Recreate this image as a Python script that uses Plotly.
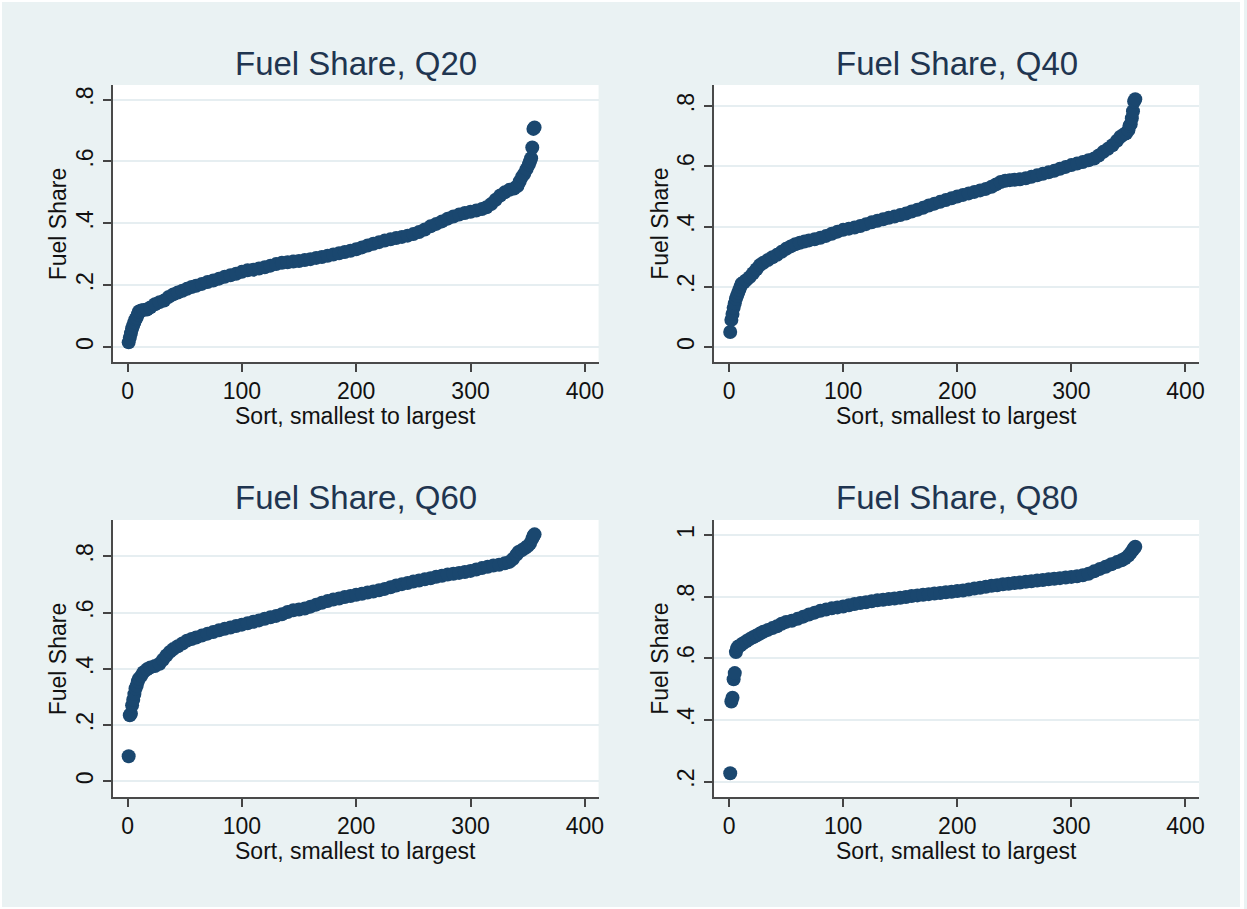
import plotly.graph_objects as go

# ---------------- data ----------------
q20_rank = [1, 2, 3, 4, 5, 6, 7, 8, 9, 10, 12, 14, 17, 20, 24, 28, 32, 36, 40, 44, 48, 52, 56, 60,
            65, 70, 75, 80, 85, 90, 95, 100, 105, 110, 115, 120, 125, 130, 135, 140, 145, 150, 155,
            160, 165, 170, 175, 180, 185, 190, 195, 200, 205, 210, 215, 220, 225, 230, 235, 240, 245,
            250, 255, 260, 265, 270, 275, 280, 285, 290, 295, 300, 305, 310, 314, 318, 322, 326, 330,
            334, 338, 341, 343, 345, 347, 349, 351, 352, 353, 354, 355, 356]
q20_share = [0.015, 0.03, 0.045, 0.06, 0.07, 0.08, 0.09, 0.095, 0.105, 0.115, 0.118, 0.12, 0.121, 0.128,
             0.138, 0.145, 0.15, 0.162, 0.17, 0.176, 0.182, 0.188, 0.194, 0.198, 0.204, 0.21, 0.215,
             0.221, 0.227, 0.232, 0.237, 0.243, 0.248, 0.25, 0.254, 0.258, 0.263, 0.268, 0.272, 0.274,
             0.276, 0.278, 0.281, 0.284, 0.288, 0.291, 0.295, 0.299, 0.303, 0.307, 0.311, 0.316, 0.322,
             0.328, 0.334, 0.339, 0.344, 0.348, 0.352, 0.356, 0.36, 0.365, 0.372, 0.38, 0.39, 0.398,
             0.406, 0.415, 0.422, 0.428, 0.433, 0.437, 0.441, 0.446, 0.452, 0.462, 0.476, 0.49, 0.5,
             0.508, 0.512, 0.52, 0.535, 0.55, 0.56, 0.575, 0.59, 0.6, 0.61, 0.645, 0.705, 0.71]

q40_rank = [1, 2, 3, 4, 5, 6, 7, 8, 9, 10, 11, 13, 15, 18, 21, 24, 27, 30, 34, 38, 42, 46, 50, 54, 58,
            62, 66, 70, 75, 80, 85, 90, 95, 100, 105, 110, 115, 120, 125, 130, 135, 140, 145, 150, 155,
            160, 165, 170, 175, 180, 185, 190, 195, 200, 205, 210, 215, 220, 225, 230, 234, 238, 242,
            246, 250, 255, 260, 265, 270, 275, 280, 285, 290, 295, 300, 305, 310, 315, 320, 324, 328,
            332, 336, 340, 343, 346, 348, 350, 351, 352, 353, 354, 355, 356]
q40_share = [0.05, 0.09, 0.11, 0.13, 0.145, 0.16, 0.17, 0.18, 0.19, 0.2, 0.21, 0.215, 0.222, 0.232,
             0.245, 0.258, 0.272, 0.28, 0.289, 0.298, 0.306, 0.316, 0.326, 0.334, 0.341, 0.346, 0.35,
             0.354, 0.358, 0.363, 0.369, 0.376, 0.383, 0.389, 0.393, 0.397, 0.402, 0.408, 0.414, 0.419,
             0.424, 0.429, 0.433, 0.438, 0.443, 0.45, 0.456, 0.462, 0.47, 0.476, 0.482, 0.488, 0.494,
             0.5, 0.505, 0.51, 0.515, 0.52, 0.525, 0.532, 0.54, 0.548, 0.552, 0.554, 0.555, 0.557,
             0.56, 0.565, 0.57, 0.575, 0.58, 0.585, 0.592, 0.598, 0.604, 0.609, 0.614, 0.62, 0.626,
             0.636, 0.648, 0.658, 0.67, 0.685, 0.698, 0.706, 0.71, 0.72, 0.735, 0.74, 0.76, 0.783,
             0.815, 0.823]

q60_rank = [1, 2, 3, 4, 5, 6, 7, 8, 9, 10, 12, 14, 17, 20, 24, 28, 31, 34, 37, 40, 44, 48, 52, 56, 60,
            65, 70, 75, 80, 85, 90, 95, 100, 105, 110, 115, 120, 125, 130, 135, 140, 145, 150, 155,
            160, 165, 170, 175, 180, 185, 190, 195, 200, 205, 210, 215, 220, 225, 230, 235, 240, 245,
            250, 255, 260, 265, 270, 275, 280, 285, 290, 295, 300, 305, 310, 315, 320, 325, 330, 334,
            337, 340, 342, 345, 348, 350, 352, 354, 355, 356]
q60_share = [0.089, 0.235, 0.24, 0.27, 0.29, 0.31, 0.33, 0.34, 0.355, 0.365, 0.375, 0.388, 0.398, 0.405,
             0.41, 0.418, 0.432, 0.447, 0.46, 0.47, 0.48, 0.49, 0.5, 0.506, 0.511, 0.518, 0.525, 0.531,
             0.537, 0.542, 0.547, 0.552, 0.557, 0.562, 0.567, 0.572, 0.578, 0.583, 0.588, 0.594,
             0.602, 0.608, 0.611, 0.614, 0.621, 0.628, 0.635, 0.641, 0.646, 0.65, 0.655, 0.659, 0.663,
             0.667, 0.671, 0.675, 0.679, 0.684, 0.69, 0.696, 0.701, 0.705, 0.71, 0.714, 0.718, 0.722,
             0.727, 0.731, 0.735, 0.738, 0.741, 0.744, 0.748, 0.753, 0.758, 0.763, 0.767, 0.77, 0.775,
             0.78, 0.79, 0.805, 0.815, 0.822, 0.83, 0.836, 0.845, 0.862, 0.872, 0.878]

q80_rank = [1, 2, 3, 4, 5, 6, 7, 8, 10, 12, 15, 18, 21, 24, 27, 30, 34, 38, 42, 46, 50, 55, 60, 65, 70,
            75, 80, 85, 90, 95, 100, 105, 110, 115, 120, 125, 130, 135, 140, 145, 150, 155, 160, 165,
            170, 175, 180, 185, 190, 195, 200, 205, 210, 215, 220, 225, 230, 235, 240, 245, 250, 255,
            260, 265, 270, 275, 280, 285, 290, 295, 300, 305, 310, 315, 320, 325, 330, 335, 340, 344,
            347, 350, 352, 354, 355, 356]
q80_share = [0.227, 0.46, 0.472, 0.532, 0.552, 0.62, 0.632, 0.638, 0.642, 0.648, 0.655, 0.662, 0.668,
             0.674, 0.68, 0.686, 0.692, 0.698, 0.704, 0.712, 0.718, 0.722, 0.728, 0.735, 0.742, 0.748,
             0.754, 0.758, 0.762, 0.765, 0.768, 0.772, 0.776, 0.779, 0.782, 0.785, 0.788, 0.79, 0.792,
             0.794, 0.796, 0.799, 0.802, 0.804, 0.806, 0.808, 0.81, 0.812, 0.814, 0.816, 0.818, 0.82,
             0.823, 0.826, 0.829, 0.832, 0.835, 0.837, 0.84, 0.842, 0.844, 0.846, 0.848, 0.85, 0.852,
             0.854, 0.856, 0.858, 0.86, 0.862, 0.864, 0.866, 0.869, 0.874, 0.882, 0.89, 0.897, 0.905,
             0.912, 0.918, 0.924, 0.933, 0.942, 0.952, 0.958, 0.962]

panel_titles = ["Fuel Share, Q20", "Fuel Share, Q40", "Fuel Share, Q60", "Fuel Share, Q80"]
x_tick_vals = [0, 100, 200, 300, 400]
y_tick_vals_a = [0, 0.2, 0.4, 0.6, 0.8]
y_tick_text_a = ["0", ".2", ".4", ".6", ".8"]
y_tick_vals_b = [0.2, 0.4, 0.6, 0.8, 1.0]
y_tick_text_b = [".2", ".4", ".6", ".8", "1"]
x_title = "Sort, smallest to largest"
y_title = "Fuel Share"

# ---------------- layout geometry ----------------
W, H = 1247, 909
BG = "#eaf2f3"
NAVY = "#1a476f"
FONT = "Arial, Liberation Sans, sans-serif"
TXT = "#111111"


def px_x(v):
    return v / W


def px_y(v):
    return 1 - v / H


# plot regions in pixels: (left, right, top, bottom)
regions = [(113, 601, 85, 362), (717, 1204, 85, 362), (113, 601, 520, 797), (717, 1204, 520, 797)]
y_ranges = [[-0.0485, 0.847], [-0.0498, 0.870], [-0.0558, 0.929], [0.150, 1.0486]]
x_range = [-13.1, 412.0]

series = [(q20_rank, q20_share), (q40_rank, q40_share), (q60_rank, q60_share), (q80_rank, q80_share)]

fig = go.Figure()
layout = dict(
    width=W, height=H,
    margin=dict(l=0, r=0, t=0, b=0),
    paper_bgcolor=BG,
    plot_bgcolor="white",
    showlegend=False,
    font=dict(family=FONT, size=23, color=TXT),
)
annotations = []

for i, ((ranks, vals), (l, r, t, b)) in enumerate(zip(series, regions)):
    n = i + 1
    xa = "x" if n == 1 else f"x{n}"
    ya = "y" if n == 1 else f"y{n}"
    fig.add_trace(go.Scatter(
        x=ranks, y=vals, mode="markers", xaxis=xa, yaxis=ya,
        marker=dict(color=NAVY, size=14, line=dict(width=0)),
        hoverinfo="skip",
    ))
    tv, tt = (y_tick_vals_b, y_tick_text_b) if n == 4 else (y_tick_vals_a, y_tick_text_a)
    layout["xaxis" if n == 1 else f"xaxis{n}"] = dict(
        domain=[px_x(l), px_x(r)], anchor=ya, range=x_range,
        tickvals=x_tick_vals, ticks="outside", ticklen=8, tickwidth=1.5, tickcolor="#444444",
        showline=True, linecolor="#4a4a4a", linewidth=1.5, showgrid=False, zeroline=False,
        tickfont=dict(size=23, family=FONT, color=TXT), ticklabelstandoff=0,
    )
    layout["yaxis" if n == 1 else f"yaxis{n}"] = dict(
        domain=[px_y(b), px_y(t)], anchor=xa, range=y_ranges[i],
        tickvals=tv, ticktext=tt, tickangle=-90,
        ticks="outside", ticklen=8, tickwidth=1.5, tickcolor="#444444",
        showline=True, linecolor="#4a4a4a", linewidth=1.5,
        showgrid=True, gridcolor="#e6eef1", gridwidth=1.5, zeroline=False,
        tickfont=dict(size=23, family=FONT, color=TXT), ticklabelstandoff=1,
    )
    cx = (l + r) / 2
    cy = (t + b) / 2
    annotations.append(dict(
        text=panel_titles[i], x=px_x(cx), y=px_y(t - 22), xref="paper", yref="paper",
        xanchor="center", yanchor="middle", showarrow=False,
        font=dict(size=33, family=FONT, color="#1f3550"),
    ))
    annotations.append(dict(
        text=x_title, x=px_x(cx), y=px_y(b + 54), xref="paper", yref="paper",
        xanchor="center", yanchor="middle", showarrow=False,
        font=dict(size=23, family=FONT, color=TXT),
    ))
    annotations.append(dict(
        text=y_title, x=px_x(l - 55), y=px_y(cy), xref="paper", yref="paper",
        xanchor="center", yanchor="middle", showarrow=False, textangle=-90,
        font=dict(size=23, family=FONT, color=TXT),
    ))

layout["annotations"] = annotations
layout["shapes"] = [dict(type="rect", xref="paper", yref="paper", x0=0, y0=0, x1=1, y1=1,
                         line=dict(color="white", width=4), fillcolor="rgba(0,0,0,0)")]
fig.update_layout(**layout)
fig.write_html(
    "out.html",
    config={"displayModeBar": False},
    post_script="document.body.style.margin='0';document.body.style.overflow='hidden';",
)
